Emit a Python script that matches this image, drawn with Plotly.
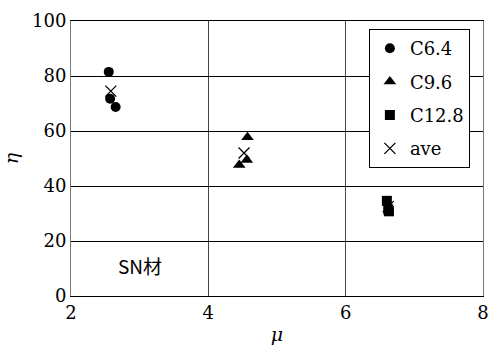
import plotly.graph_objects as go

# Ductility factor (mu) vs. efficiency (eta) for SN steel specimens
c64_mu = [2.55, 2.57, 2.65]
c64_eta = [81.5, 71.7, 68.7]
c96_mu = [4.57, 4.56, 4.45]
c96_eta = [57.7, 49.5, 47.6]
c128_mu = [6.60, 6.62, 6.63]
c128_eta = [34.6, 31.5, 30.8]
ave_mu = [2.58, 4.52, 6.62]
ave_eta = [74.5, 52.0, 32.5]

x_ticks = [2, 4, 6, 8]
y_ticks = [0, 20, 40, 60, 80, 100]

serif = "DejaVu Serif"
fsize = 18

fig = go.Figure()
fig.add_trace(go.Scatter(x=c64_mu, y=c64_eta, mode="markers", name="C6.4", legendgroup="a",
                         marker=dict(symbol="circle", size=10, color="black")))
fig.add_trace(go.Scatter(x=c96_mu, y=c96_eta, mode="markers", name="C9.6", legendgroup="b",
                         marker=dict(symbol="triangle-up", size=11, color="black")))
fig.add_trace(go.Scatter(x=c128_mu, y=c128_eta, mode="markers", name="C12.8", legendgroup="c",
                         marker=dict(symbol="square", size=10, color="black")))
fig.add_trace(go.Scatter(x=ave_mu, y=ave_eta, mode="markers", name="ave", legendgroup="d",
                         marker=dict(symbol="x-thin", size=11, color="black",
                                     line=dict(width=1.3, color="black"))))

fig.add_annotation(x=3.0, y=11, xref="x", yref="y", text="SN材", showarrow=False,
                   font=dict(family="Noto Sans CJK JP", size=19, color="black"))

fig.update_layout(
    width=489, height=349,
    margin=dict(l=71, r=6, t=21, b=53, autoexpand=False),
    paper_bgcolor="white", plot_bgcolor="white",
    font=dict(family=serif, size=fsize, color="black"),
    showlegend=True,
    legend=dict(x=0.723, y=0.971, xanchor="left", yanchor="top",
                bgcolor="white", bordercolor="black", borderwidth=1,
                font=dict(family=serif, size=fsize), tracegroupgap=7,
                traceorder="grouped", itemwidth=30),
    xaxis=dict(range=[2, 8], tickvals=x_ticks, showgrid=True, gridcolor="#444", gridwidth=1,
               showline=True, linecolor="black", linewidth=1, mirror=True, zeroline=False,
               ticks="", ticklen=0, tickfont=dict(family=serif, size=fsize), automargin=False,
               ticklabeloverflow="allow",
               title=dict(text="<i>μ</i>", font=dict(family=serif, size=fsize + 1), standoff=6)),
    yaxis=dict(range=[0, 100], tickvals=y_ticks, showgrid=True, gridcolor="black", gridwidth=1,
               showline=True, linecolor="#777", linewidth=1, mirror=True, zeroline=False,
               ticks="", ticklen=0, tickfont=dict(family=serif, size=fsize), automargin=False,
               ticklabeloverflow="allow",
               title=dict(text="<i>η</i>", font=dict(family=serif, size=fsize + 1), standoff=8)),
)

fig.write_html("out.html")
